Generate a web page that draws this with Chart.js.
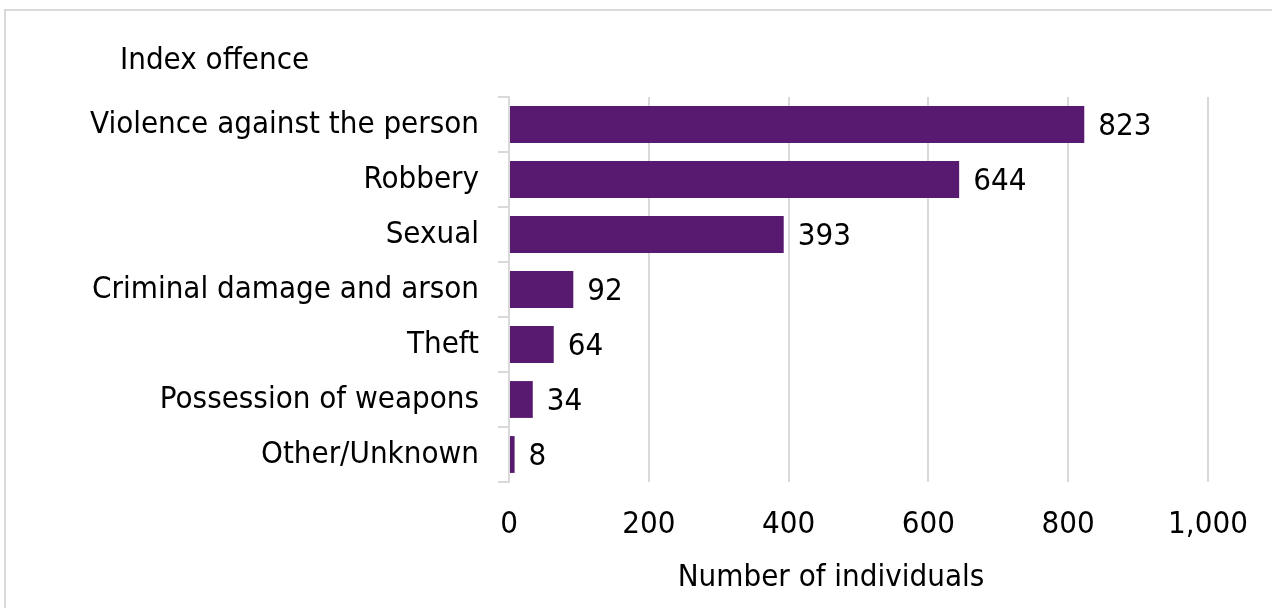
<!DOCTYPE html>
<html lang="en">
<head>
  <meta charset="UTF-8" />
  <title>Index offence</title>
  <script src="https://cdn.jsdelivr.net/npm/chart.js"></script>
  <style>
    body {
      margin: 0;
      padding: 0;
      background-color: #ffffff;
      overflow: hidden;
    }

    .wrap {
      position: relative;
      width: 1272px;
      height: 608px;
    }

    .frame {
      position: absolute;
      left: 4px;
      top: 9px;
      right: -10px;
      bottom: -10px;
      border-top: 2px solid #d9d9d9;
      border-left: 2px solid #d9d9d9;
    }

    canvas {
      position: absolute;
      left: 0;
      top: 0;
    }
  </style>
</head>
<body>
  <div class="wrap">
    <div class="frame"></div>
    <canvas id="offenceChart" width="1272" height="608"></canvas>
  </div>

  <script>
    const categories = [
      "Violence against the person",
      "Robbery",
      "Sexual",
      "Criminal damage and arson",
      "Theft",
      "Possession of weapons",
      "Other/Unknown"
    ];
    const individuals = [823, 644, 393, 92, 64, 34, 8];
    const xTicks = [0, 200, 400, 600, 800, 1000];

    const FONT = "'DejaVu Sans Condensed', 'DejaVu Sans', sans-serif";
    const FONT_SIZE = 31;

    // value labels at bar ends, the "Index offence" heading and the x title
    const labelPlugin = {
      id: 'labels',
      afterDatasetsDraw(chart) {
        const ctx = chart.ctx;
        const meta = chart.getDatasetMeta(0);
        ctx.save();
        ctx.font = `${FONT_SIZE}px ${FONT}`;
        ctx.fillStyle = '#000';
        ctx.textBaseline = 'middle';
        ctx.textAlign = 'left';
        meta.data.forEach((bar, i) => {
          ctx.fillText(String(individuals[i]), bar.x + 14, bar.y + 2);
        });
        ctx.fillText('Index offence', 120, 61);
        ctx.textAlign = 'center';
        ctx.fillText('Number of individuals', 831, 578);
        ctx.restore();
      }
    };

    new Chart(document.getElementById('offenceChart').getContext('2d'), {
      type: 'bar',
      data: {
        labels: categories,
        datasets: [{
          data: individuals,
          backgroundColor: '#571a70',
          borderWidth: 0,
          barPercentage: 0.67,
          categoryPercentage: 1
        }]
      },
      plugins: [labelPlugin],
      options: {
        indexAxis: 'y',
        responsive: false,
        animation: false,
        layout: {
          padding: { top: 97, right: 64, left: 0, bottom: 0 }
        },
        plugins: {
          legend: { display: false },
          tooltip: { enabled: false }
        },
        scales: {
          x: {
            min: 0,
            max: 1000,
            afterFit(scale) { scale.height = 126; },
            afterBuildTicks(scale) { scale.ticks = xTicks.map(v => ({ value: v })); },
            grid: { color: '#d9d9d9', lineWidth: 2, drawTicks: false },
            border: { display: false },
            ticks: {
              padding: 24,
              color: '#000',
              font: { family: FONT, size: FONT_SIZE },
              callback: v => v.toLocaleString('en-US')
            }
          },
          y: {
            afterFit(scale) { scale.width = 509; },
            grid: {
              drawOnChartArea: false,
              drawTicks: true,
              tickLength: 11,
              color: '#d9d9d9',
              lineWidth: 2
            },
            border: { display: true, color: '#d9d9d9', width: 2 },
            ticks: {
              padding: 19,
              color: '#000',
              font: { family: FONT, size: FONT_SIZE }
            }
          }
        }
      }
    });
  </script>
</body>
</html>
